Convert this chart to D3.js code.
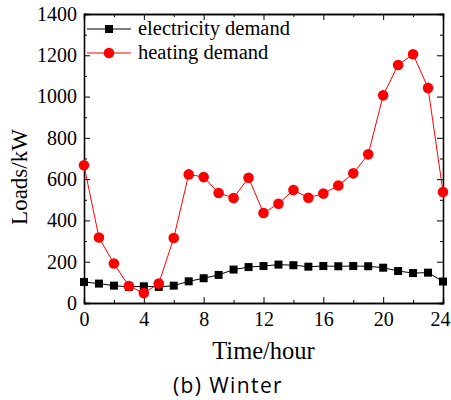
<!DOCTYPE html>
<html>
<head>
<meta charset="utf-8">
<script src="https://cdn.jsdelivr.net/npm/d3@7"></script>
<style>
  body { margin: 0; background: #fff; }
  svg text { fill: #000; }
</style>
</head>
<body>
<div id="container"></div>
<script>
// data
const hours = d3.range(0, 25);
const electricity = [102, 94, 84, 78, 81, 78, 84, 105, 120, 136, 162, 174, 179, 186, 183, 176, 179, 178, 179, 178, 171, 155, 145, 147, 104];
const heating = [667, 317, 191, 82, 48, 94, 315, 623, 610, 533, 509, 607, 436, 481, 547, 510, 530, 569, 628, 720, 1006, 1153, 1205, 1042, 538];
const xTicks = [0, 4, 8, 12, 16, 20, 24];
const yTicks = [0, 200, 400, 600, 800, 1000, 1200, 1400];
const seriesNames = ["electricity demand", "heating demand"];

const w = 451, h = 400;
const plotLeft = 84, plotRight = 443, plotTop = 14, plotBottom = 303;

const svg = d3.select("#container")
              .append("svg")
              .attr("width", w)
              .attr("height", h);

const xScale = d3.scaleLinear().domain([0, 24]).range([plotLeft, plotRight]);
const yScale = d3.scaleLinear().domain([0, 1400]).range([plotBottom, plotTop]);

const serif = "'Liberation Serif', 'Times New Roman', serif";

// axes with inward ticks
const xMinor = d3.range(2, 24, 4);
const yMinor = d3.range(100, 1400, 200);

function styleAxis(g) {
  g.select(".domain").attr("stroke", "#000").attr("stroke-width", 1.3);
  g.selectAll(".tick line").attr("stroke", "#000").attr("stroke-width", 1);
  g.selectAll("text").style("font-family", serif).style("font-size", "20px");
}

svg.append("g")
   .attr("transform", "translate(0," + plotBottom + ")")
   .call(d3.axisBottom(xScale).tickValues(xTicks).tickSize(-6).tickPadding(9).tickFormat(d3.format("d")))
   .call(styleAxis)
   .selectAll("text")
   .filter((d) => d == 24)
   .attr("dx", "-3");
svg.append("g")
   .attr("transform", "translate(0," + plotBottom + ")")
   .call(d3.axisBottom(xScale).tickValues(xMinor).tickSize(-3).tickFormat(""))
   .call(styleAxis);
svg.append("g")
   .attr("transform", "translate(0," + plotTop + ")")
   .call(d3.axisTop(xScale).tickValues(xTicks).tickSize(-6).tickFormat(""))
   .call(styleAxis);
svg.append("g")
   .attr("transform", "translate(0," + plotTop + ")")
   .call(d3.axisTop(xScale).tickValues(xMinor).tickSize(-3).tickFormat(""))
   .call(styleAxis);

svg.append("g")
   .attr("transform", "translate(" + plotLeft + ",0)")
   .call(d3.axisLeft(yScale).tickValues(yTicks).tickSize(-6).tickPadding(7).tickFormat(d3.format("d")))
   .call(styleAxis);
svg.append("g")
   .attr("transform", "translate(" + plotLeft + ",0)")
   .call(d3.axisLeft(yScale).tickValues(yMinor).tickSize(-3).tickFormat(""))
   .call(styleAxis);
svg.append("g")
   .attr("transform", "translate(" + plotRight + ",0)")
   .call(d3.axisRight(yScale).tickValues(yTicks).tickSize(-6).tickFormat(""))
   .call(styleAxis);
svg.append("g")
   .attr("transform", "translate(" + plotRight + ",0)")
   .call(d3.axisRight(yScale).tickValues(yMinor).tickSize(-3).tickFormat(""))
   .call(styleAxis);

// lines
const line = d3.line().x((d) => xScale(d[0])).y((d) => yScale(d[1]));
const elecData = hours.map((x, i) => [x, electricity[i]]);
const heatData = hours.map((x, i) => [x, heating[i]]);

svg.append("path")
   .datum(elecData)
   .attr("fill", "none")
   .attr("stroke", "#000")
   .attr("stroke-width", 1)
   .attr("d", line);
svg.append("path")
   .datum(heatData)
   .attr("fill", "none")
   .attr("stroke", "#ff0000")
   .attr("stroke-width", 1)
   .attr("d", line);

svg.selectAll(".sq")
   .data(elecData)
   .enter()
   .append("rect")
   .attr("class", "sq")
   .attr("x", (d) => xScale(d[0]) - 4)
   .attr("y", (d) => yScale(d[1]) - 4)
   .attr("width", 8)
   .attr("height", 8)
   .attr("fill", "#000");

svg.selectAll(".dot")
   .data(heatData)
   .enter()
   .append("circle")
   .attr("class", "dot")
   .attr("cx", (d) => xScale(d[0]))
   .attr("cy", (d) => yScale(d[1]))
   .attr("r", 5.3)
   .attr("fill", "#ff0000");

// legend
const legend = svg.append("g");
[0, 1].forEach(function(i){
  const ly = 29 + i * 24;
  legend.append("line")
        .attr("x1", 87).attr("x2", 131)
        .attr("y1", ly).attr("y2", ly)
        .attr("stroke", i == 0 ? "#000" : "#ff0000")
        .attr("stroke-width", 1);
  if (i == 0) {
    legend.append("rect").attr("x", 105).attr("y", ly - 4).attr("width", 8).attr("height", 8).attr("fill", "#000");
  } else {
    legend.append("circle").attr("cx", 109).attr("cy", ly).attr("r", 5.3).attr("fill", "#ff0000");
  }
  legend.append("text")
        .attr("x", 138)
        .attr("y", ly + 6)
        .style("font-family", serif)
        .style("font-size", "20.5px")
        .text(seriesNames[i]);
});

// axis titles
svg.append("text")
   .attr("x", (plotLeft + plotRight) / 2)
   .attr("y", 359)
   .attr("text-anchor", "middle")
   .style("font-family", serif)
   .style("font-size", "24.5px")
   .text("Time/hour");

svg.append("text")
   .attr("transform", "translate(27,177) rotate(-90)")
   .attr("text-anchor", "middle")
   .style("font-family", serif)
   .style("font-size", "23px")
   .text("Loads/kW");

svg.append("text")
   .attr("x", 228)
   .attr("y", 393)
   .attr("text-anchor", "middle")
   .style("font-family", "'Open Sans', 'Liberation Sans', sans-serif")
   .style("font-size", "21px")
   .style("letter-spacing", "1.4px")
   .text("(b) Winter");
</script>
</body>
</html>
